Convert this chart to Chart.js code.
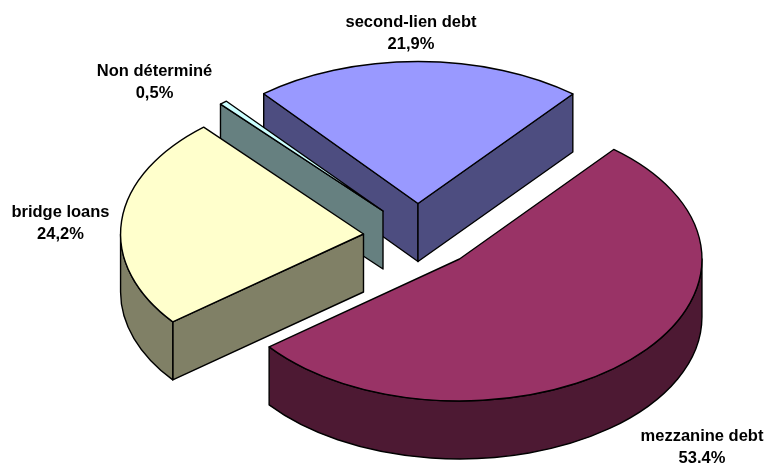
<!DOCTYPE html>
<html>
<head>
<meta charset="utf-8">
<title>Répartition de la dette</title>
<script src="https://cdn.jsdelivr.net/npm/chart.js@4"></script>
<style>
  html, body { margin: 0; padding: 0; background: #fff; }
  canvas { display: block; }
</style>
</head>
<body>
<canvas id="pie" width="764" height="463"></canvas>
<script>
const categories = ['mezzanine debt', 'bridge loans', 'Non déterminé', 'second-lien debt'];
const shares = [53.4, 24.2, 0.5, 21.9];

const topColors = ['#993366', '#FFFFCC', '#CCFFFF', '#9999FF'];
const sideColors = ['#4D1933', '#808066', '#668080', '#4D4D80'];

// how far each slice is pulled out of the pie, in px
const explodeX = [40.5, -55.5, -36, -1];
const explodeY = [27.5, 2.5, -20.5, -28];
// back slices read a little wider on screen
const widen = [1.006, 1.008, 1.025, 1.01];

// label block centres, first line baseline
const labelX = [702, 60.5, 154.5, 411];
const labelY = [441, 217, 76, 27];

const TILT = 0.589;
const DEPTH = 58;
const LINE = 1.4;
const LINE_GAP = 21.5;
const FONT = 'bold 16.5px "Liberation Sans", Arial, sans-serif';

function facePath(ctx, points) {
  ctx.beginPath();
  points.forEach((p, i) => i ? ctx.lineTo(p[0], p[1]) : ctx.moveTo(p[0], p[1]));
  ctx.closePath();
}

function paint(ctx, fill) {
  ctx.fillStyle = fill;
  ctx.fill();
  ctx.stroke();
}

// cut face running from the apex to the rim at the given angle
function drawCutFace(ctx, cx, cy, rx, ry, angle, fill) {
  const ex = cx + Math.cos(angle) * rx;
  const ey = cy + Math.sin(angle) * ry;
  facePath(ctx, [[cx, cy], [ex, ey], [ex, ey + DEPTH], [cx, cy + DEPTH]]);
  paint(ctx, fill);
}

// rim wall, only the part of the slice on the front half of the ellipse
function drawRim(ctx, cx, cy, rx, ry, start, end, fill) {
  for (let k = -1; k <= 1; k++) {
    const from = Math.max(start, k * 2 * Math.PI);
    const to = Math.min(end, k * 2 * Math.PI + Math.PI);
    if (from >= to) continue;
    ctx.beginPath();
    ctx.ellipse(cx, cy, rx, ry, 0, from, to);
    ctx.ellipse(cx, cy + DEPTH, rx, ry, 0, to, from, true);
    ctx.closePath();
    paint(ctx, fill);
  }
}

const pie3d = {
  id: 'pie3d',
  beforeDatasetsDraw(chart) {
    const ctx = chart.ctx;
    const arcs = chart.getDatasetMeta(0).data.map((arc, i) => ({ arc, i }));
    const midSin = a => Math.sin((a.arc.startAngle + a.arc.endAngle) / 2);

    ctx.save();
    ctx.strokeStyle = '#000';
    ctx.lineWidth = LINE;
    ctx.lineJoin = 'round';

    // back slices first
    arcs.sort((a, b) => midSin(a) - midSin(b)).forEach(({ arc, i }) => {
      const cx = arc.x + explodeX[i];
      const cy = arc.y + explodeY[i];
      const rx = arc.outerRadius * widen[i];
      const ry = arc.outerRadius * TILT;
      const start = arc.startAngle;
      const end = arc.endAngle;

      if (Math.cos(start) < 0) drawCutFace(ctx, cx, cy, rx, ry, start, sideColors[i]);
      if (Math.cos(end) > 0) drawCutFace(ctx, cx, cy, rx, ry, end, sideColors[i]);
      drawRim(ctx, cx, cy, rx, ry, start, end, sideColors[i]);

      ctx.beginPath();
      ctx.moveTo(cx, cy);
      ctx.ellipse(cx, cy, rx, ry, 0, start, end);
      ctx.closePath();
      paint(ctx, arc.options.backgroundColor);
    });
    ctx.restore();
    return false;
  },
  afterDraw(chart) {
    const ctx = chart.ctx;
    ctx.save();
    ctx.font = FONT;
    ctx.fillStyle = '#000';
    ctx.textAlign = 'center';
    categories.forEach((name, i) => {
      ctx.fillText(name, labelX[i], labelY[i]);
      ctx.fillText(shares[i].toFixed(1).replace('.', ',') + '%', labelX[i], labelY[i] + LINE_GAP);
    });
    ctx.restore();
  }
};

new Chart(document.getElementById('pie').getContext('2d'), {
  type: 'pie',
  data: {
    labels: categories,
    datasets: [{ data: shares, backgroundColor: topColors, borderWidth: 0 }]
  },
  options: {
    responsive: false,
    animation: false,
    rotation: 39.5,
    radius: 241,
    layout: { padding: { left: 74 } },
    plugins: {
      legend: { display: false },
      tooltip: { enabled: false }
    }
  },
  plugins: [pie3d]
});
</script>
</body>
</html>
